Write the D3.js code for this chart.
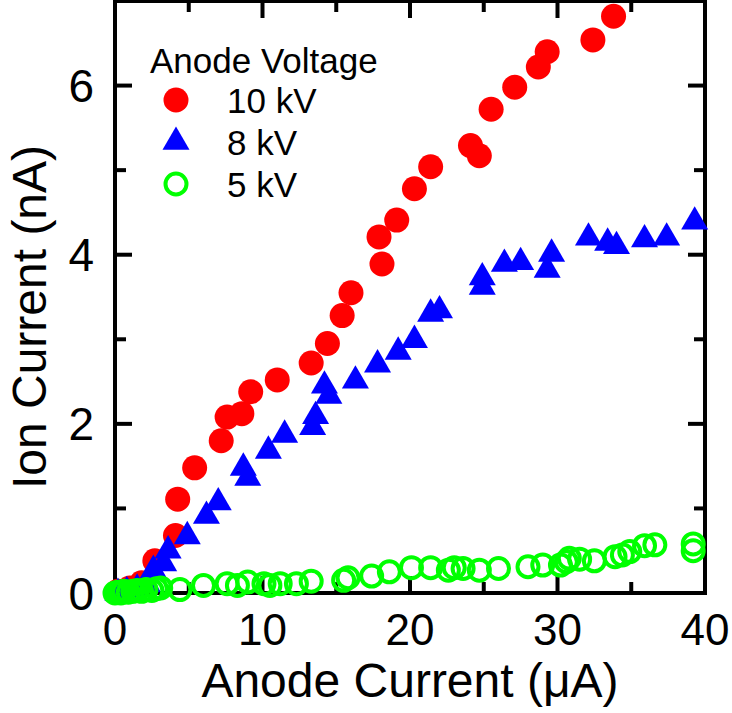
<!DOCTYPE html>
<html>
<head>
<meta charset="utf-8">
<script src="https://cdn.jsdelivr.net/npm/d3@7"></script>
<style>
  body { margin: 0; background: #fff; }
  text { font-family: "Liberation Sans", Arial, sans-serif; fill: #000; }
</style>
</head>
<body>
<div id="chart"></div>
<script>
// anode current (uA), ion current (nA)
const kv10 = [
  [0.2, 0.02], [1.0, 0.06], [1.8, 0.12], [2.7, 0.38], [4.1, 0.68], [4.25, 1.11],
  [5.4, 1.48], [7.2, 1.80], [7.6, 2.08], [8.6, 2.12], [9.2, 2.38], [11.0, 2.52],
  [13.3, 2.72], [14.4, 2.95], [15.4, 3.28], [16.0, 3.55], [18.1, 3.89], [17.9, 4.21],
  [19.1, 4.41], [20.3, 4.78], [21.4, 5.04], [24.1, 5.29], [24.7, 5.17], [25.5, 5.72],
  [27.1, 5.98], [28.7, 6.22], [29.3, 6.40], [32.4, 6.54], [33.8, 6.82]
];
const kv8 = [
  [0.2, 0.0], [0.8, 0.02], [1.5, 0.05], [2.2, 0.1], [2.6, 0.27], [3.3, 0.35],
  [3.6, 0.50], [4.9, 0.67], [6.2, 0.91], [7.0, 1.07], [8.7, 1.48], [9.0, 1.36],
  [10.4, 1.68], [11.5, 1.87], [13.4, 1.96], [13.6, 2.09], [14.2, 2.45], [14.5, 2.33],
  [16.3, 2.51], [17.8, 2.70], [19.2, 2.85], [20.3, 2.99], [21.4, 3.30], [22.0, 3.34],
  [24.9, 3.73], [24.9, 3.62], [26.4, 3.89], [27.5, 3.91], [29.3, 3.82], [29.6, 4.01],
  [32.1, 4.20], [33.4, 4.14], [34.0, 4.10], [35.9, 4.18], [37.4, 4.20], [39.3, 4.39]
];
const kv5 = [
  [0.0, 0.0], [0.2, 0.01], [0.4, 0.0], [0.6, 0.02], [0.9, 0.01], [1.2, 0.02],
  [1.5, 0.03], [1.8, 0.02], [2.1, 0.04], [2.5, 0.03], [2.8, 0.05], [3.1, 0.06],
  [4.4, 0.04], [6.0, 0.09], [7.6, 0.11], [8.3, 0.09], [9.0, 0.13], [10.1, 0.11],
  [10.5, 0.09], [11.2, 0.11], [12.3, 0.11], [13.3, 0.14], [15.5, 0.15], [15.8, 0.18],
  [17.4, 0.20], [18.6, 0.25], [20.1, 0.30], [21.4, 0.30], [22.6, 0.27], [23.0, 0.30],
  [23.6, 0.29], [24.7, 0.27], [26.0, 0.29], [28.0, 0.31], [29.0, 0.33], [30.2, 0.33],
  [30.6, 0.37], [30.8, 0.41], [31.5, 0.40], [32.5, 0.38], [33.9, 0.43], [34.4, 0.45],
  [34.9, 0.49], [35.9, 0.56], [36.6, 0.57], [39.2, 0.58], [39.2, 0.50]
];
const xTicks = [0, 10, 20, 30, 40];
const xMinor = [5, 15, 25, 35];
const yTicks = [0, 2, 4, 6];
const yMinor = [1, 3, 5];
const legendLabels = ["10 kV", "8 kV", "5 kV"];

const W = 732, H = 713;
const pL = 115, pR = 705, pT = 1, pB = 593;

const svg = d3.select("#chart").append("svg")
  .attr("width", W)
  .attr("height", H);

const x = d3.scaleLinear().domain([0, 40]).range([pL, pR]);
const y = d3.scaleLinear().domain([0, 7]).range([pB, pT]);

const major = 17, minor = 11;

// ticks on all four sides, pointing in
function tickLinesX(sel, vals, len) {
  vals.forEach(v => {
    sel.append("line").attr("x1", x(v)).attr("x2", x(v)).attr("y1", pB).attr("y2", pB - len);
    sel.append("line").attr("x1", x(v)).attr("x2", x(v)).attr("y1", pT).attr("y2", pT + len);
  });
}
function tickLinesY(sel, vals, len) {
  vals.forEach(v => {
    sel.append("line").attr("y1", y(v)).attr("y2", y(v)).attr("x1", pL).attr("x2", pL + len);
    sel.append("line").attr("y1", y(v)).attr("y2", y(v)).attr("x1", pR).attr("x2", pR - len);
  });
}
const ticks = svg.append("g").attr("stroke", "#000").attr("stroke-width", 4);
tickLinesX(ticks, xTicks, major);
tickLinesX(ticks, xMinor, minor);
tickLinesY(ticks, yTicks, major);
tickLinesY(ticks, yMinor, minor);

svg.append("rect")
  .attr("x", pL).attr("y", pT)
  .attr("width", pR - pL).attr("height", pB - pT)
  .attr("fill", "none").attr("stroke", "#000").attr("stroke-width", 4);

svg.append("g").selectAll("text").data(xTicks).join("text")
  .attr("x", d => x(d)).attr("y", 645)
  .attr("text-anchor", "middle").attr("font-size", "44px")
  .text(d => d);

svg.append("g").selectAll("text").data(yTicks).join("text")
  .attr("x", 94).attr("y", d => y(d)).attr("dy", "0.36em")
  .attr("text-anchor", "end").attr("font-size", "46px")
  .text(d => d);

svg.append("text")
  .attr("x", (pL + pR) / 2).attr("y", 697)
  .attr("text-anchor", "middle").attr("font-size", "48px")
  .text("Anode Current (\u03bcA)");

svg.append("text")
  .attr("transform", `translate(46, ${(pT + pB) / 2 + 20}) rotate(-90)`)
  .attr("text-anchor", "middle").attr("font-size", "48px")
  .text("Ion Current (nA)");

// data marks: red, then blue, then green on top
const tri = d3.symbol().type(d3.symbolTriangle).size(316);

svg.append("g").selectAll("circle").data(kv10).join("circle")
  .attr("cx", d => x(d[0])).attr("cy", d => y(d[1]))
  .attr("r", 12.5).attr("fill", "#ff0000");

svg.append("g").selectAll("path").data(kv8).join("path")
  .attr("d", tri)
  .attr("transform", d => `translate(${x(d[0])},${y(d[1])})`)
  .attr("fill", "#0000ff");

svg.append("g").selectAll("circle").data(kv5).join("circle")
  .attr("cx", d => x(d[0])).attr("cy", d => y(d[1]))
  .attr("r", 10.5).attr("fill", "none")
  .attr("stroke", "#00ff00").attr("stroke-width", 4);

// legend
const lg = svg.append("g");
lg.append("text").attr("x", 150).attr("y", 73).attr("font-size", "35px").text("Anode Voltage");
const rowY = [100, 142, 184];
lg.append("circle").attr("cx", 176).attr("cy", rowY[0]).attr("r", 12.5).attr("fill", "#ff0000");
lg.append("path").attr("d", tri).attr("transform", `translate(176,${rowY[1]})`).attr("fill", "#0000ff");
lg.append("circle").attr("cx", 176).attr("cy", rowY[2]).attr("r", 10.5)
  .attr("fill", "none").attr("stroke", "#00ff00").attr("stroke-width", 4);
lg.selectAll("text.item").data(legendLabels).join("text")
  .attr("class", "item")
  .attr("x", 227).attr("y", (d, i) => rowY[i]).attr("dy", "0.36em")
  .attr("font-size", "35px")
  .text(d => d);
</script>
</body>
</html>
